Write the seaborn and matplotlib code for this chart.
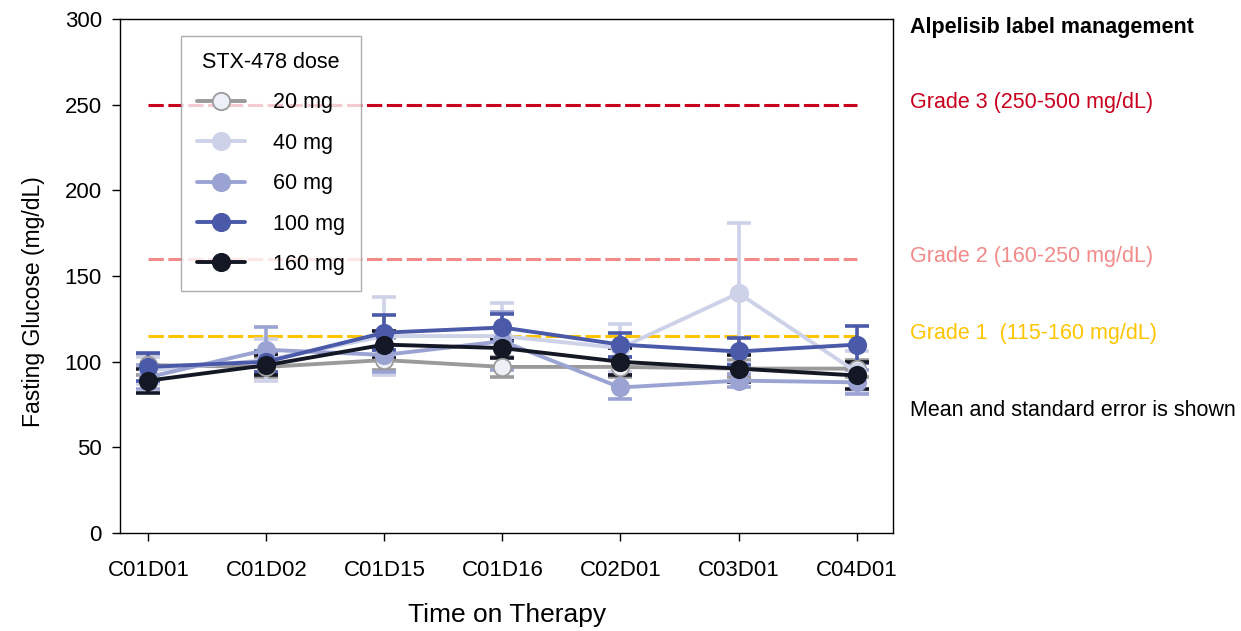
import pandas as pd
import matplotlib
matplotlib.use("Agg")
import matplotlib.pyplot as plt
from matplotlib.lines import Line2D
import seaborn as sns

# visitas y dosis
visits = ["C01D01", "C01D02", "C01D15", "C01D16", "C02D01", "C03D01", "C04D01"]
doses = ["20 mg", "40 mg", "60 mg", "100 mg", "160 mg"]

# media de glucosa en ayunas (mg/dL) por dosis
mean_20 = [98, 97, 101, 97, 97, 96, 96]
mean_40 = [95, 101, 115, 115, 108, 140, 94]
mean_60 = [91, 107, 104, 112, 85, 89, 88]
mean_100 = [97, 100, 117, 120, 110, 106, 110]
mean_160 = [89, 98, 110, 108, 100, 96, 92]

# error estándar
se_20 = [6, 6, 6, 6, 6, 5, 5]
se_40 = [8, 12, 23, 19, 14, 41, 12]
se_60 = [7, 13, 10, 17, 7, 4, 7]
se_100 = [8, 6, 10, 8, 7, 8, 11]
se_160 = [7, 6, 8, 6, 8, 8, 8]

# umbrales de la ficha de alpelisib
grade_levels = [250, 160, 115]
grade_labels = ["Grade 3 (250-500 mg/dL)", "Grade 2 (160-250 mg/dL)", "Grade 1  (115-160 mg/dL)"]
grade_colors = ["#c8001e", "#f28a8a", "#ffc400"]

colors = ["#9a9a9a", "#cdd2e8", "#9ba3d3", "#4a5aa8", "#141824"]
faces = ["#eef0f8", "#cdd2e8", "#9ba3d3", "#4a5aa8", "#141824"]

means = [mean_20, mean_40, mean_60, mean_100, mean_160]
ses = [se_20, se_40, se_60, se_100, se_160]

rows = []
for d, m, s in zip(doses, means, ses):
    for v, mv, sv in zip(visits, m, s):
        rows.append({"visit": v, "dose": d, "mean": mv, "se": sv})
df = pd.DataFrame(rows)

sns.set_style("ticks")
plt.rcParams["font.family"] = ["Liberation Sans", "DejaVu Sans"]
plt.rcParams["text.color"] = "black"
plt.rcParams["axes.labelcolor"] = "black"
plt.rcParams["xtick.color"] = "black"
plt.rcParams["ytick.color"] = "black"
plt.rcParams["axes.edgecolor"] = "black"

fig = plt.figure(figsize=(12.41, 6.31), dpi=100)
ax = fig.add_axes([0.0967, 0.155, 0.623, 0.815])

# lineas de grado
for lvl, col in zip(grade_levels, grade_colors):
    ax.hlines(lvl, 0, len(visits) - 1, colors=col, linestyles=(0, (5, 1.5)), linewidth=2.2, zorder=1)

# barras de error
for i, d in enumerate(doses):
    sub = df[df["dose"] == d]
    ax.errorbar(range(len(visits)), sub["mean"], yerr=sub["se"], fmt="none",
                ecolor=colors[i], elinewidth=2.6, capsize=8.5, capthick=2.6, zorder=2 + i)

sns.lineplot(data=df, x="visit", y="mean", hue="dose", hue_order=doses,
             palette=colors, marker="o", markersize=12.5, linewidth=2.8,
             markeredgewidth=1.3, sort=False, legend=False, ax=ax, zorder=8)

# caras de los marcadores
for line, fc, ec in zip(ax.lines[-len(doses):], faces, colors):
    line.set_markerfacecolor(fc)
    line.set_markeredgecolor(ec)

ax.set_xlim(-0.24, 6.31)
ax.set_ylim(0, 300)
ax.set_yticks(range(0, 301, 50))
ax.tick_params(labelsize=16, length=6, width=1)
ax.tick_params(axis="x", pad=13)
ax.tick_params(axis="y", pad=7)
ax.set_xlabel("Time on Therapy", fontsize=19)
ax.set_ylabel("Fasting Glucose (mg/dL)", fontsize=16.5)
ax.xaxis.set_label_coords(0.5, -0.135)
ax.yaxis.set_label_coords(-0.097, 0.451)
for sp in ax.spines.values():
    sp.set_linewidth(1)
    sp.set_visible(True)

handles = [Line2D([0], [0], color=c, marker="o", markersize=12.5, markerfacecolor=f,
                  markeredgecolor=c, markeredgewidth=1.3, linewidth=2.8)
           for c, f in zip(colors, faces)]
leg = ax.legend(handles, doses, title="STX-478 dose", loc="upper left",
                bbox_to_anchor=(0.079, 0.967), borderaxespad=0, fontsize=15.5,
                title_fontsize=15.5, frameon=True, fancybox=False, handlelength=2.2,
                labelspacing=0.9, borderpad=0.75, handletextpad=1.3)
leg.get_frame().set_edgecolor("#999999")
leg.get_frame().set_linewidth(1)

fig.text(0.733, 0.956, "Alpelisib label management", fontsize=15.5, fontweight="bold", va="center")
for lbl, col, yy in zip(grade_labels, grade_colors, [0.837, 0.593, 0.472]):
    fig.text(0.733, yy, lbl, fontsize=15.5, color=col, va="center")
fig.text(0.733, 0.349, "Mean and standard error is shown", fontsize=15.5, va="center")

fig.savefig("out.png", dpi=100)
